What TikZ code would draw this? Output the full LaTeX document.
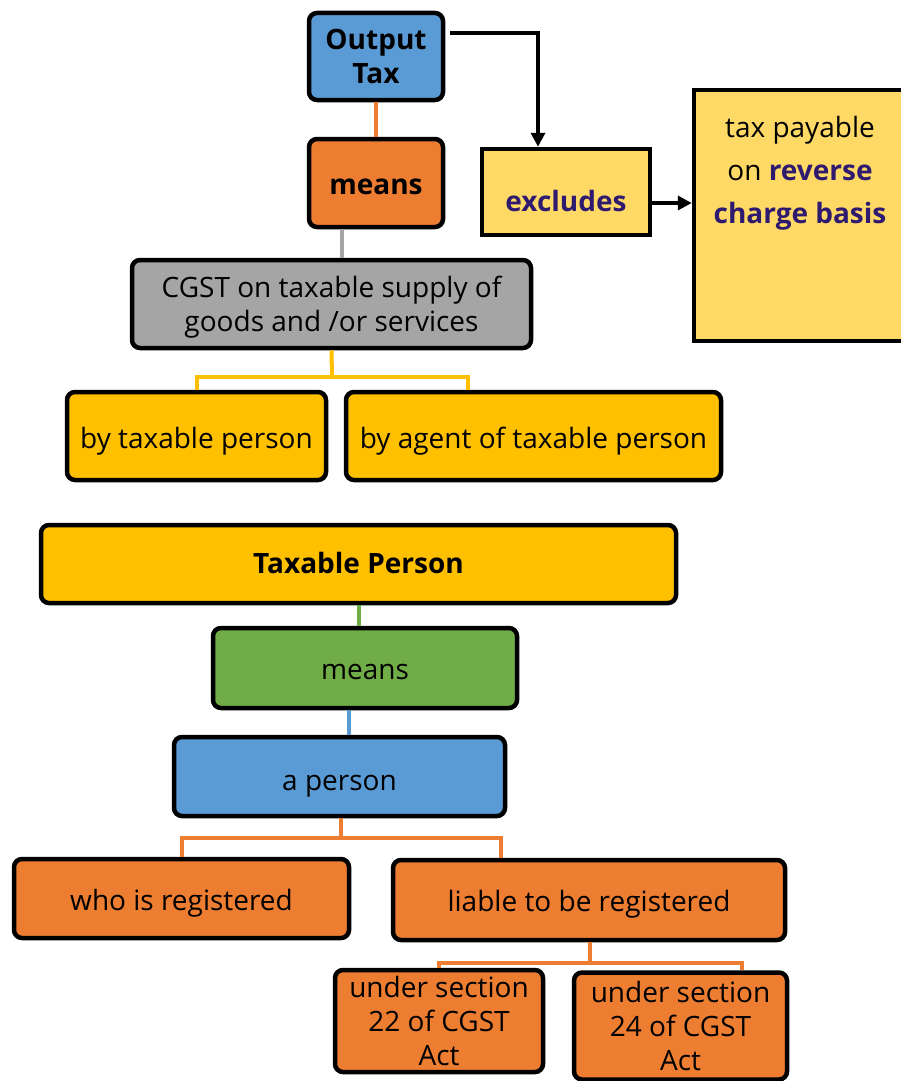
\documentclass[tikz,border=0pt]{standalone}
\usepackage{fontspec}
\setmainfont{Open Sans}
\usetikzlibrary{arrows.meta,calc}
\definecolor{cblue}{HTML}{5B9BD5}
\definecolor{corange}{HTML}{ED7D31}
\definecolor{cgray}{HTML}{A5A5A5}
\definecolor{cgold}{HTML}{FFC000}
\definecolor{clight}{HTML}{FFD966}
\definecolor{cgreen}{HTML}{70AD47}
\definecolor{cnavy}{HTML}{2E1B70}
\tikzset{
  box/.style={draw=black, line width=4.5pt, rounded corners=8pt, align=center, inner sep=0pt,
    font=\fontsize{28}{34}\selectfont},
  sqbox/.style={draw=black, line width=4.5pt, align=center, inner sep=0pt,
    font=\fontsize{28}{34}\selectfont},
  down/.style={text depth=6.7pt, text height={22pt+2*#1}},
  conn/.style={line width=4pt},
  arr/.style={line width=4pt, -{Triangle[length=14pt,width=14pt]}}
}
\begin{document}
\begin{tikzpicture}[x=1pt,y=-1pt]
\useasboundingbox (0,0) rectangle (900,1081);
% top part
\node[box, fill=cblue, minimum width=134pt, minimum height=87pt] (ot) at (376,56.5) {\bfseries Output\\\bfseries Tax};
\node[box, down=4pt, fill=corange, minimum width=134pt, minimum height=88pt] (m1) at (376,183) {\bfseries means};
\node[box, fill=cgray, minimum width=399pt, minimum height=88pt] (cg) at (331.5,304) {\rule{0pt}{27pt}CGST on taxable supply of\\goods and /or services};
\node[sqbox, down=12pt, fill=clight, minimum width=168pt, minimum height=86pt] (ex) at (566,192) {\color{cnavy}\bfseries excludes};
\node[sqbox, fill=clight, minimum width=214pt, minimum height=251pt] (tp) at (801,215.5) {};
\node[align=center, inner sep=0pt, font=\fontsize{28}{43}\selectfont] (tpt) at (800,173) {tax payable\\on \textcolor{cnavy}{\bfseries reverse}\\\textcolor{cnavy}{\bfseries charge basis}};
\node[box, down=5pt, fill=cgold, minimum width=259pt, minimum height=88pt] (bt) at (196.5,436) {by taxable person};
\node[box, down=5pt, fill=cgold, minimum width=375pt, minimum height=88pt] (ba) at (533.5,436) {by agent of taxable person};
% bottom part
\node[box, down=2pt, fill=cgold, minimum width=635pt, minimum height=78pt] (tpn) at (358.5,564) {\bfseries Taxable Person};
\node[box, down=4pt, fill=cgreen, minimum width=304pt, minimum height=80pt] (m2) at (365,668) {means};
\node[box, down=6pt, fill=cblue, minimum width=331pt, minimum height=79pt] (ap) at (339.5,776.5) {a person};
\node[box, down=4pt, fill=corange, minimum width=335pt, minimum height=79pt] (wr) at (181.5,898.5) {who is registered};
\node[box, down=4pt, fill=corange, minimum width=392pt, minimum height=80pt] (lr) at (589,900) {liable to be registered};
\node[box, fill=corange, minimum width=208pt, minimum height=102pt] (s22) at (439,1021) {under section\\22 of CGST\\Act};
\node[box, fill=corange, minimum width=213pt, minimum height=107pt] (s24) at (680.5,1026) {under section\\24 of CGST\\Act};
% connectors
\draw[conn, corange] (ot.south) -- (m1.north);
\draw[conn, cgray] ([xshift=-34pt]m1.south) -- ([xshift=-34pt]m1.south |- cg.north);
\coordinate (yj) at (332,377);
\draw[conn, cgold] (cg.south) -- (yj);
\draw[conn, cgold] (bt.north) |- (yj) -| ([xshift=-66pt]ba.north);
\draw[arr] ([xshift=5pt,yshift=23.5pt]ot.east) -| ([xshift=-28pt]ex.north);
\draw[arr] ([yshift=-11pt]ex.east) -- ([yshift=-11pt]ex.east -| tp.west);
\draw[conn, cgreen] (tpn.south) -- (tpn.south |- m2.north);
\draw[conn, cblue] ([xshift=-16pt]m2.south) -- ([xshift=-16pt]m2.south |- ap.north);
\coordinate (oj) at (341,838);
\draw[conn, corange] ([xshift=1.5pt]ap.south) -- (oj);
\draw[conn, corange] (wr.north) |- (oj) -| ([xshift=-88pt]lr.north);
\coordinate (oj2) at (590,963);
\draw[conn, corange] ([xshift=1pt]lr.south) -- (oj2);
\draw[conn, corange] (s22.north) |- (oj2) -| ([xshift=61.5pt]s24.north);
\end{tikzpicture}
\end{document}
